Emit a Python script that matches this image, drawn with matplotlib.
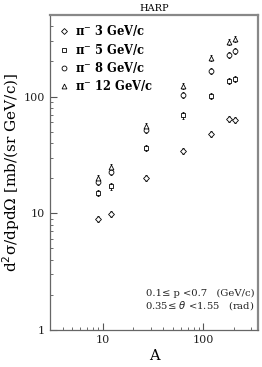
import numpy as np
import matplotlib
matplotlib.use("Agg")
import matplotlib.pyplot as plt
from matplotlib.lines import Line2D
from matplotlib.ticker import LogLocator, NullFormatter, FixedLocator, FixedFormatter

# target mass numbers: Be, C, Al, Cu, Sn, Ta, Pb
A = np.array([9.01, 12.01, 26.98, 63.55, 118.7, 180.9, 207.2])

xs_3 = np.array([9.0, 9.9, 20.0, 34.4, 47.9, 64.7, 63.0])
xs_5 = np.array([15.0, 17.0, 36.3, 69.0, 102.0, 137.0, 142.0])
xs_8 = np.array([18.6, 22.6, 52.0, 103.0, 165.0, 229.0, 245.0])
xs_12 = np.array([20.2, 24.9, 56.0, 123.0, 215.0, 293.0, 313.0])

labels = ["π$^{-}$ 3 GeV/c", "π$^{-}$ 5 GeV/c", "π$^{-}$ 8 GeV/c", "π$^{-}$ 12 GeV/c"]
markers = ["D", "s", "o", "^"]
series = [xs_3, xs_5, xs_8, xs_12]

figure, axes = plt.subplots(figsize=(2.62, 3.67), dpi=100)
figure.subplots_adjust(left=0.191, right=0.985, top=0.959, bottom=0.101)

handles = []
for vals, m, lab in zip(series, markers, labels):
    msize = 3.0 if m == "D" else 3.5
    axes.errorbar(A, vals, yerr=0.06 * vals, fmt=m, mfc="white", mec="black",
                  ms=msize, mew=0.6, ecolor="black", elinewidth=0.6,
                  capsize=1.0, capthick=0.6)
    handles.append(Line2D([], [], marker=m, ls="none", mfc="white", mec="black",
                          ms=msize, mew=0.6, label=lab))

axes.set_xscale("log")
axes.set_yscale("log")
axes.set_xlim(3, 350)
axes.set_ylim(1, 500)

axes.xaxis.set_major_locator(FixedLocator([10, 100]))
axes.xaxis.set_major_formatter(FixedFormatter(["10", "100"]))
axes.xaxis.set_minor_locator(LogLocator(base=10, subs=np.arange(2, 10)))
axes.xaxis.set_minor_formatter(NullFormatter())
axes.yaxis.set_major_locator(FixedLocator([1, 10, 100]))
axes.yaxis.set_major_formatter(FixedFormatter(["1", "10", "100"]))
axes.yaxis.set_minor_locator(LogLocator(base=10, subs=np.arange(2, 10)))
axes.yaxis.set_minor_formatter(NullFormatter())

axes.tick_params(which="both", direction="in", top=False, right=False,
                 color="#555555", labelsize=8, labelcolor="#222222")
axes.tick_params(which="major", length=5, width=0.8)
axes.tick_params(which="minor", length=2.5, width=0.6)
for lab in axes.get_xticklabels() + axes.get_yticklabels():
    lab.set_family("DejaVu Serif")

for side in ["left", "bottom"]:
    axes.spines[side].set_color("#666666")
    axes.spines[side].set_linewidth(0.9)
for side in ["top", "right"]:
    axes.spines[side].set_color("#888888")
    axes.spines[side].set_linewidth(1.6)

axes.set_title("HARP", fontsize=7, family="DejaVu Serif", pad=3)
axes.set_xlabel("A", fontsize=10.5, family="DejaVu Serif", labelpad=3)
axes.set_ylabel("d$^2$σ/dpdΩ [mb/(sr GeV/c)]", fontsize=11,
                family="DejaVu Serif", labelpad=1)

axes.text(0.985, 0.117, "0.1≤ p <0.7   (GeV/c)", transform=axes.transAxes,
          ha="right", va="center", fontsize=7.2, family="DejaVu Serif",
          color="#222222")
axes.text(0.985, 0.079, "0.35≤ $\\theta$ <1.55   (rad)", transform=axes.transAxes,
          ha="right", va="center", fontsize=7.2, family="DejaVu Serif",
          color="#222222")

axes.legend(handles=handles, loc="upper left", frameon=False,
            prop={"family": "DejaVu Serif", "weight": "bold", "size": 8.3},
            handletextpad=0.5, handlelength=1.0, labelspacing=0.3,
            borderaxespad=0.4, borderpad=0.3, numpoints=1)

figure.savefig("out.png", dpi=100)
